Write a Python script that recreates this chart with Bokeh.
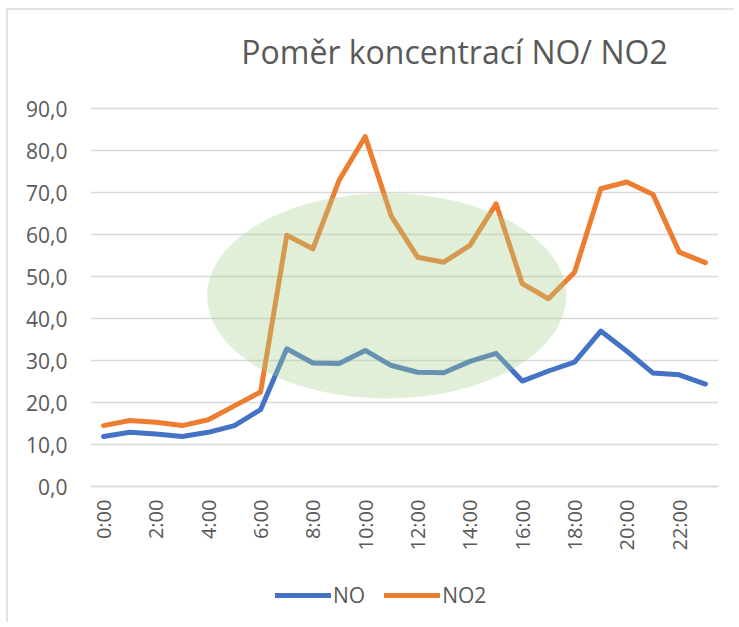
import math
from bokeh.plotting import figure
from bokeh.models import FixedTicker, Legend, LegendItem, ColumnDataSource, Label
from bokeh.embed import file_html
from bokeh.resources import INLINE

# ---- data ----
hours = ["0:00", "1:00", "2:00", "3:00", "4:00", "5:00", "6:00", "7:00",
         "8:00", "9:00", "10:00", "11:00", "12:00", "13:00", "14:00", "15:00",
         "16:00", "17:00", "18:00", "19:00", "20:00", "21:00", "22:00", "23:00"]
no_vals = [11.9, 12.9, 12.5, 11.9, 12.9, 14.5, 18.3, 32.8, 29.4, 29.3, 32.4, 28.8,
           27.2, 27.1, 29.8, 31.7, 25.1, 27.5, 29.6, 37.0, 32.2, 27.0, 26.6, 24.4]
no2_vals = [14.5, 15.7, 15.3, 14.5, 15.9, 19.2, 22.5, 59.8, 56.6, 72.9, 83.3, 64.3,
            54.6, 53.4, 57.4, 67.3, 48.3, 44.7, 51.0, 70.9, 72.5, 69.5, 55.8, 53.3]
y_ticks = [0, 10, 20, 30, 40, 50, 60, 70, 80, 90]
title_text = "Poměr koncentrací NO/ NO2"
series_names = ["NO", "NO2"]
# highlighted region (ellipse) in data coordinates
ell_x, ell_y, ell_w, ell_h = 10.82, 45.4, 13.73, 48.9

idx = list(range(len(hours)))
src = ColumnDataSource(dict(x=idx, no=no_vals, no2=no2_vals))

FONT = "Open Sans"
TXT = "#595959"
GRID = "#d9d9d9"

# layout (canvas pixels; canvas sits at page offset 8,10 after the CSS frame)
W, H = 728, 614
LEFT, RIGHT = 82, 710
TOP90, ZERO, BOTTOM = 98, 476, 610      # rows of value 90, value 0, frame bottom
y_max = y_ticks[-1]
ppu = (ZERO - TOP90) / y_max            # pixels per unit
y_lo = -(BOTTOM - ZERO) / ppu           # room below 0 for labels / legend
y_hi = y_max + TOP90 / ppu              # room above 90 for the title

p = figure(width=W, height=H, output_backend="svg", toolbar_location=None,
           x_range=(-0.5, len(hours) - 0.5), y_range=(y_lo, y_hi),
           min_border_left=LEFT, min_border_right=W - RIGHT, min_border_top=0,
           min_border_bottom=H - BOTTOM)
p.outline_line_color = None
p.background_fill_color = "white"
p.border_fill_color = "white"
p.styles = {"margin-left": "6px", "margin-top": "8px",
            "border-left": "2px solid #e3e3e3", "border-top": "2px solid #e3e3e3"}

# axes
p.xaxis.fixed_location = 0
p.xaxis.ticker = FixedTicker(ticks=idx[::2])
p.xaxis.major_label_overrides = {i: hours[i] for i in idx[::2]}
p.xaxis.major_label_orientation = math.pi / 2
p.xaxis.major_label_standoff = 13
p.yaxis.ticker = FixedTicker(ticks=y_ticks)
p.yaxis.major_label_overrides = {t: f"{t:.1f}".replace(".", ",") for t in y_ticks}
p.yaxis.major_label_standoff = 23
for ax in (p.xaxis, p.yaxis):
    ax.major_label_text_font = FONT
    ax.major_label_text_font_size = "21px"
    ax.major_label_text_color = TXT
    ax.major_tick_line_color = None
    ax.minor_tick_line_color = None
    ax.major_tick_out = 0
    ax.major_tick_in = 0
p.xaxis.major_label_text_font_size = "20px"
p.yaxis.axis_line_color = None
p.xaxis.axis_line_color = GRID
p.xaxis.axis_line_width = 1.5
p.xgrid.grid_line_color = None
p.ygrid.grid_line_color = GRID
p.ygrid.grid_line_width = 1.5
p.ygrid.ticker = FixedTicker(ticks=y_ticks)

r_no = p.line("x", "no", source=src, line_color="#4472C4", line_width=5,
              line_join="round", line_cap="round")
r_no2 = p.line("x", "no2", source=src, line_color="#ED7D31", line_width=5,
               line_join="round", line_cap="round")

p.ellipse(x=[ell_x], y=[ell_y], width=ell_w, height=ell_h,
          fill_color="#a9d18e", fill_alpha=0.34, line_color=None)

# chart title (frame-relative screen units: x from frame left, y from frame bottom)
p.add_layout(Label(x=364, y=BOTTOM - 41, x_units="screen", y_units="screen",
                   text=title_text, text_font=FONT, text_font_size="32px",
                   text_color=TXT, text_align="center", text_baseline="alphabetic"))

legend = Legend(items=[LegendItem(label=series_names[0], renderers=[r_no]),
                       LegendItem(label=series_names[1], renderers=[r_no2])],
                location=(185, 11), orientation="horizontal",
                label_text_font=FONT, label_text_font_size="21px",
                label_text_color=TXT, glyph_width=56, glyph_height=24,
                label_height=24, label_standoff=2, spacing=19, padding=0,
                margin=0, border_line_color=None, background_fill_alpha=0)
p.add_layout(legend, "center")

open("out.html", "w").write(file_html(p, INLINE))
